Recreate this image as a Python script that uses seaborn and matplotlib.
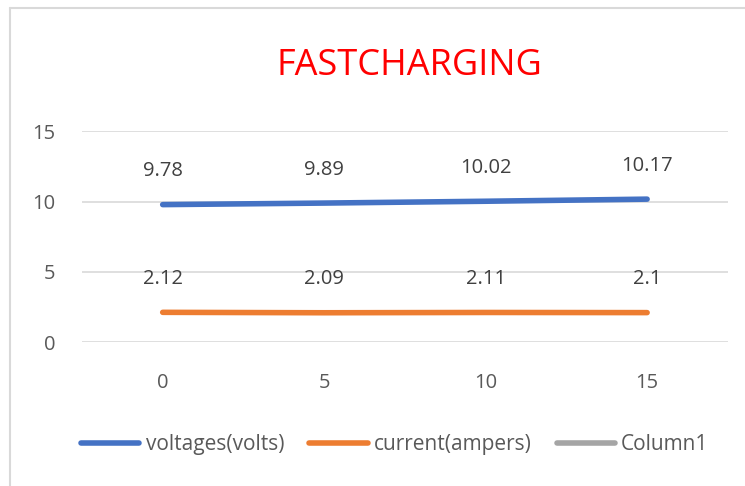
import numpy as np
import pandas as pd
import matplotlib.pyplot as plt
import seaborn as sns
from matplotlib.lines import Line2D

# data
time_points = [0, 5, 10, 15]
voltages = [9.78, 9.89, 10.02, 10.17]
current = [2.12, 2.09, 2.11, 2.1]
column1 = [np.nan, np.nan, np.nan, np.nan]
series_names = ["voltages(volts)", "current(ampers)", "Column1"]
colors = ["#4472C4", "#ED7D31", "#A5A5A5"]

df = pd.DataFrame({
    "x": time_points * 3,
    "value": voltages + current + column1,
    "series": [s for s in series_names for _ in time_points],
})

sns.set_style("white")
plt.rcParams["font.family"] = ["Open Sans", "DejaVu Sans"]
text_gray = "#595959"

fig = plt.figure(figsize=(7.45, 4.86), dpi=100)
ax = fig.add_axes([0.110, 0.296, 0.867, 0.434])

sns.lineplot(data=df, x="x", y="value", hue="series", palette=colors,
             hue_order=series_names, linewidth=4, ax=ax, legend=False)

# data labels
for vals in (voltages, current):
    for x, v in zip(time_points, vals):
        ax.annotate(f"{v:g}", (x, v), xytext=(0, 24), textcoords="offset points",
                    ha="center", va="center", fontsize=14.5, color="#404040")

ax.set_xlim(-2.5, 17.5)
ax.set_ylim(0, 15)
ax.set_yticks([0, 5, 10, 15])
ax.set_xticks(time_points)
ax.grid(axis="y", color="#D9D9D9", linewidth=1.2)
ax.grid(axis="x", visible=False)
for s in ax.spines.values():
    s.set_visible(False)
ax.tick_params(length=0, labelsize=14.5, colors=text_gray)
ax.tick_params(axis="x", pad=22)
ax.tick_params(axis="y", pad=19)
ax.set_xlabel("")
ax.set_ylabel("")

fig.text(0.55, 0.864, "FASTCHARGING", ha="center", va="center",
         fontsize=26, color="red")

handles = [Line2D([0], [0], color=c, linewidth=4) for c in colors]
fig.legend(handles, series_names, loc="center", bbox_to_anchor=(0.53, 0.085),
           ncol=3, frameon=False, fontsize=15, handlelength=2.8,
           columnspacing=1.2, handletextpad=0.3, labelcolor=text_gray)

# chart frame
fig.add_artist(Line2D([0.013, 1.0], [0.984, 0.984], color="#D9D9D9", linewidth=1.5))
fig.add_artist(Line2D([0.013, 0.013], [0.0, 0.984], color="#D9D9D9", linewidth=1.5))

fig.savefig("out.png", dpi=100)
